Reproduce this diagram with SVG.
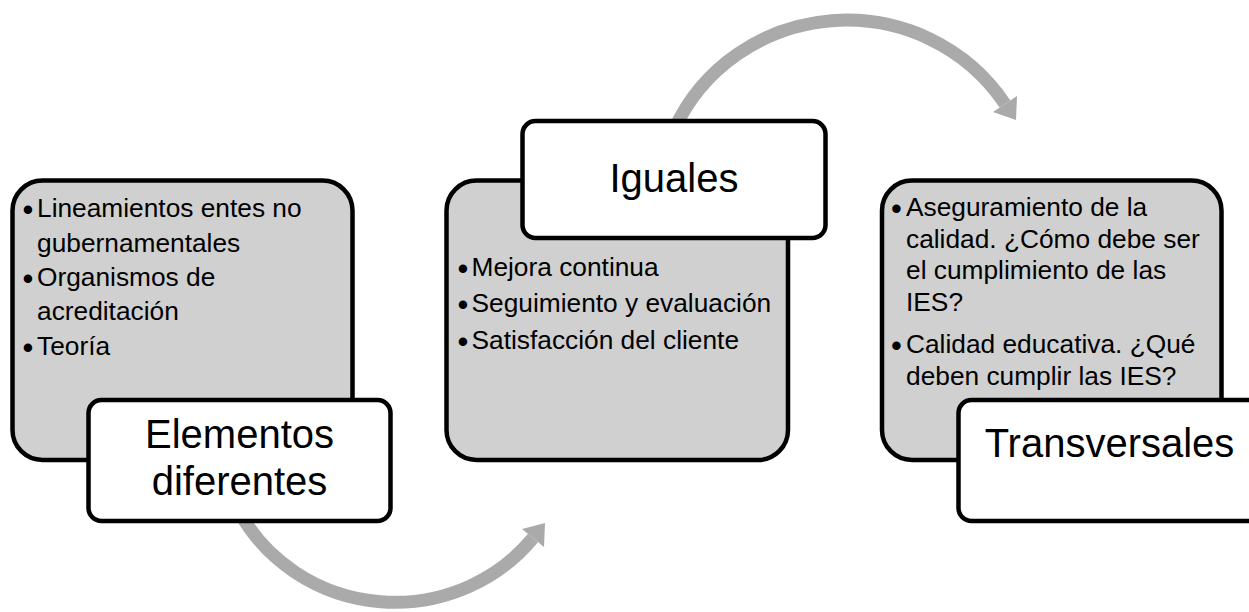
<svg xmlns="http://www.w3.org/2000/svg" width="1249" height="612" viewBox="0 0 1249 612">
<style>
.content{fill:#d0d0d0;stroke:#000;stroke-width:4.5}
.label{fill:#fff;stroke:#000;stroke-width:4.5}
.arc{fill:none;stroke:#aaaaaa;stroke-width:13}
.head{fill:#aaaaaa;stroke:none}
.t{font-family:"Liberation Sans",Arial,sans-serif;font-size:26.3px;fill:#000}
.b{font-family:"Liberation Sans",Arial,sans-serif;font-size:31px;fill:#000}
.h{font-family:"Liberation Sans",Arial,sans-serif;font-size:40px;fill:#000;text-anchor:middle}
</style>
<rect width="1249" height="612" fill="#fff"/>
<g id="connectors">
  <path class="arc" d="M 241 515 A 177 172 0 0 0 533 538"/>
  <polygon class="head" points="545,523 522,529 544,547"/>
  <path class="arc" d="M 674 130 A 189 185 0 0 1 1005 104"/>
  <polygon class="head" points="1016,120 1017,96 993,112"/>
</g>
<g id="node-diferentes-content">
  <rect class="content" x="12.5" y="180.5" width="340" height="279.5" rx="30"/>
  <text class="b" x="22.5" y="220">•</text><text class="t" x="37" y="217">Lineamientos entes no</text>
  <text class="t" x="37" y="251.5">gubernamentales</text>
  <text class="b" x="22.5" y="289">•</text><text class="t" x="37" y="286">Organismos de</text>
  <text class="t" x="37" y="320">acreditación</text>
  <text class="b" x="22.5" y="358">•</text><text class="t" x="37" y="355">Teoría</text>
</g>
<g id="node-diferentes-label">
  <rect class="label" x="88.5" y="400" width="302" height="121" rx="13"/>
  <text class="h" x="239.5" y="448">Elementos</text>
  <text class="h" x="239.5" y="495">diferentes</text>
</g>
<g id="node-iguales-content">
  <rect class="content" x="446.5" y="180.5" width="341.5" height="279.5" rx="30"/>
  <text class="b" x="457.5" y="279">•</text><text class="t" x="471.5" y="276">Mejora continua</text>
  <text class="b" x="457.5" y="315">•</text><text class="t" x="471.5" y="312">Seguimiento y evaluación</text>
  <text class="b" x="457.5" y="352">•</text><text class="t" x="471.5" y="349">Satisfacción del cliente</text>
</g>
<g id="node-iguales-label">
  <rect class="label" x="522.5" y="121" width="303" height="117" rx="13"/>
  <text class="h" x="674" y="192">Iguales</text>
</g>
<g id="node-transversales-content">
  <rect class="content" x="882" y="180.5" width="339.5" height="279.5" rx="30"/>
  <text class="b" x="891" y="219">•</text><text class="t" x="906" y="216">Aseguramiento de la</text>
  <text class="t" x="906" y="247.5">calidad. ¿Cómo debe ser</text>
  <text class="t" x="906" y="279">el cumplimiento de las</text>
  <text class="t" x="906" y="310.5">IES?</text>
  <text class="b" x="891" y="356">•</text><text class="t" x="906" y="353">Calidad educativa. ¿Qué</text>
  <text class="t" x="906" y="384.5">deben cumplir las IES?</text>
</g>
<g id="node-transversales-label">
  <rect class="label" x="958.5" y="400" width="302" height="121" rx="13"/>
  <text class="h" x="1109.5" y="457">Transversales</text>
</g>
</svg>
